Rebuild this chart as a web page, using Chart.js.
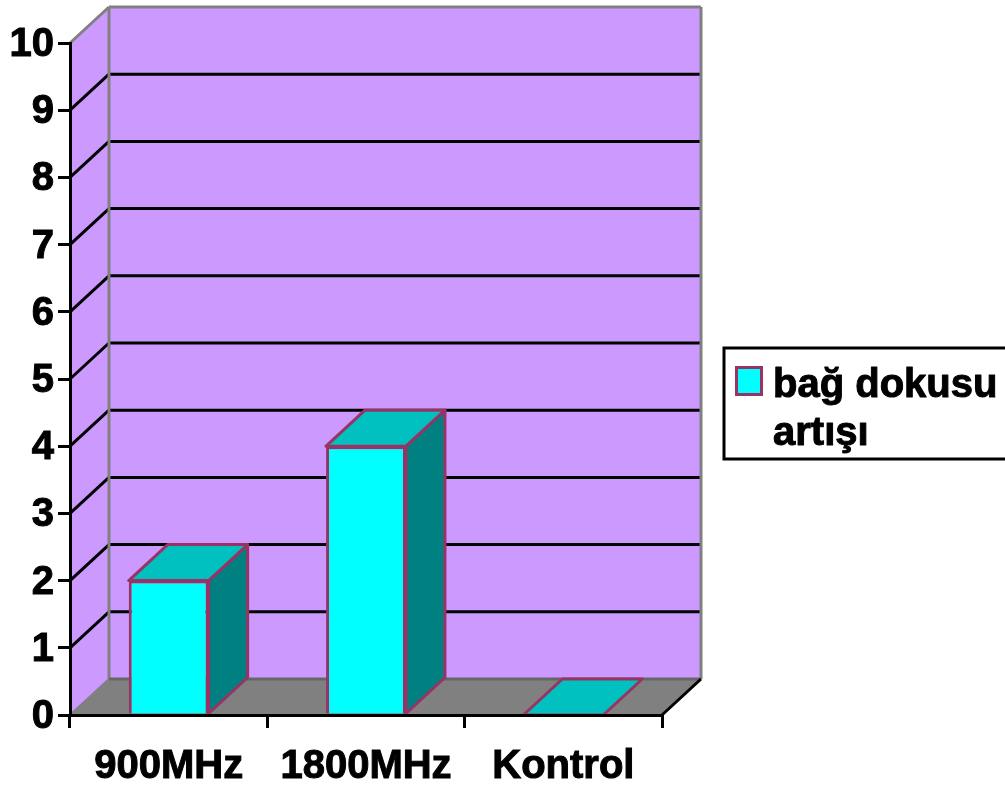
<!DOCTYPE html>
<html>
<head>
<meta charset="utf-8">
<title>bağ dokusu artışı</title>
<script src="https://cdn.jsdelivr.net/npm/chart.js@4"></script>
<style>
	html, body { margin: 0; padding: 0; background: #fff; overflow: hidden; }
	canvas { display: block; }
</style>
</head>
<body>
<canvas id="bars" width="1005" height="785"></canvas>
<script>
const categories = ['900MHz', '1800MHz', 'Kontrol'];
const dokuValues = [2, 4, 0];
const legendLines = ['bağ dokusu', 'artışı'];
const yMin = 0;
const yMax = 10;
const yStep = 1;

document.addEventListener('DOMContentLoaded', function () {

	'use strict';

	// how far the back wall is pushed from the front of the chart
	const depthX = 39;
	const depthY = 36;
	const fontName = '"Liberation Sans", Arial, sans-serif';

	function poly(ctx, pts, fill, stroke, width) {
		ctx.beginPath();
		ctx.moveTo(pts[0][0], pts[0][1]);
		for (let i = 1; i < pts.length; i++) {
			ctx.lineTo(pts[i][0], pts[i][1]);
		}
		ctx.closePath();
		if (fill) {
			ctx.fillStyle = fill;
			ctx.fill();
		}
		if (stroke) {
			ctx.strokeStyle = stroke;
			ctx.lineWidth = width;
			ctx.lineJoin = 'round';
			ctx.stroke();
		}
	}

	function line(ctx, x1, y1, x2, y2, color, width) {
		ctx.beginPath();
		ctx.moveTo(x1, y1);
		ctx.lineTo(x2, y2);
		ctx.strokeStyle = color;
		ctx.lineWidth = width;
		ctx.stroke();
	}

	// walls, floor and the grid lines that run over them
	const walls = {
		id: 'walls',
		beforeDraw: function (chart) {
			const ctx = chart.ctx;
			const a = chart.chartArea;
			ctx.save();
			poly(ctx, [[a.left, a.bottom], [a.left + depthX, a.bottom - depthY], [a.left + depthX, a.top - depthY], [a.left, a.top]], '#CC99FF');
			poly(ctx, [[a.left + depthX, a.top - depthY], [a.right + depthX, a.top - depthY], [a.right + depthX, a.bottom - depthY], [a.left + depthX, a.bottom - depthY]], '#CC99FF');
			poly(ctx, [[a.left, a.bottom], [a.left + depthX, a.bottom - depthY], [a.right + depthX, a.bottom - depthY], [a.right, a.bottom]], '#808080');

			const y = chart.scales.y;
			for (let v = yMin + yStep; v < yMax; v += yStep) {
				const py = y.getPixelForValue(v);
				line(ctx, a.left, py, a.left + depthX, py - depthY, '#000', 3);
				line(ctx, a.left + depthX, py - depthY, a.right + depthX, py - depthY, '#000', 3);
			}

			line(ctx, a.left, a.top, a.left + depthX, a.top - depthY, '#808080', 3);
			line(ctx, a.left + depthX, a.top - depthY, a.right + depthX, a.top - depthY, '#808080', 3);
			line(ctx, a.left + depthX, a.top - depthY, a.left + depthX, a.bottom - depthY, '#808080', 3);
			line(ctx, a.right + depthX, a.top - depthY, a.right + depthX, a.bottom - depthY, '#808080', 3);
			line(ctx, a.left + depthX, a.bottom - depthY, a.right + depthX, a.bottom - depthY, '#666', 3);
			line(ctx, a.left, a.bottom, a.left + depthX, a.bottom - depthY, '#808080', 2);
			line(ctx, a.right, a.bottom, a.right + depthX, a.bottom - depthY, '#000', 3);
			ctx.restore();
		}
	};

	// top and side of each bar, taken from the bar elements
	const barDepth = {
		id: 'barDepth',
		afterDatasetsDraw: function (chart) {
			const ctx = chart.ctx;
			ctx.save();
			chart.getDatasetMeta(0).data.forEach(function (bar) {
				const l = bar.x - bar.width / 2;
				const r = bar.x + bar.width / 2;
				poly(ctx, [[r, bar.y], [r + depthX, bar.y - depthY], [r + depthX, bar.base - depthY], [r, bar.base]], bar.y === bar.base ? null : '#008080', bar.y === bar.base ? null : '#993366', 3);
				poly(ctx, [[l, bar.y], [l + depthX, bar.y - depthY], [r + depthX, bar.y - depthY], [r, bar.y]], '#00C0C0', '#993366', 3);
			});
			ctx.restore();
		}
	};

	const legendBox = {
		id: 'legendBox',
		afterDraw: function (chart) {
			const ctx = chart.ctx;
			ctx.save();
			ctx.fillStyle = '#fff';
			ctx.fillRect(724, 348, 290, 111);
			ctx.strokeStyle = '#000';
			ctx.lineWidth = 3;
			ctx.strokeRect(724, 348, 290, 111);
			ctx.fillStyle = '#00FFFF';
			ctx.fillRect(736.5, 367.5, 25, 27);
			ctx.strokeStyle = '#993366';
			ctx.strokeRect(736.5, 367.5, 25, 27);
			ctx.font = 'bold 40px ' + fontName;
			ctx.textAlign = 'left';
			ctx.textBaseline = 'alphabetic';
			ctx.fillStyle = '#000';
			ctx.strokeStyle = '#000';
			ctx.lineWidth = 1;
			ctx.lineJoin = 'round';
			ctx.fillText(legendLines[0], 773, 397);
			ctx.strokeText(legendLines[0], 773, 397);
			ctx.fillText(legendLines[1], 773, 445);
			ctx.strokeText(legendLines[1], 773, 445);
			ctx.restore();
		}
	};

	new Chart(document.getElementById('bars'), {
		type: 'bar',
		data: {
			labels: categories,
			datasets: [{
				label: legendLines.join(' '),
				data: dokuValues,
				backgroundColor: '#00FFFF',
				borderColor: '#993366',
				borderWidth: 3,
				barPercentage: 0.405,
				categoryPercentage: 1
			}]
		},
		options: {
			responsive: false,
			animation: false,
			layout: { padding: { top: 43, right: 343, left: 0, bottom: 0 } },
			plugins: { legend: { display: false }, tooltip: { enabled: false }, title: { display: false } },
			scales: {
				x: {
					afterFit: function (scale) { scale.height = 70; },
					border: { color: '#000', width: 3, z: 1 },
					grid: { drawOnChartArea: false, color: '#000', lineWidth: 3, tickLength: 13 },
					ticks: { color: '#000', padding: 15, maxRotation: 0, textStrokeColor: '#000', textStrokeWidth: 1, font: { family: fontName, size: 40, weight: 'bold' } }
				},
				y: {
					min: yMin,
					max: yMax,
					afterFit: function (scale) { scale.width = 70; },
					border: { color: '#000', width: 3, z: 1 },
					grid: { drawOnChartArea: false, color: '#000', lineWidth: 3, tickLength: 12 },
					ticks: { color: '#000', stepSize: yStep, padding: 4, labelOffset: 2, textStrokeColor: '#000', textStrokeWidth: 1, font: { family: fontName, size: 40, weight: 'bold' } }
				}
			}
		},
		plugins: [walls, barDepth, legendBox]
	});
});
</script>
</body>
</html>
